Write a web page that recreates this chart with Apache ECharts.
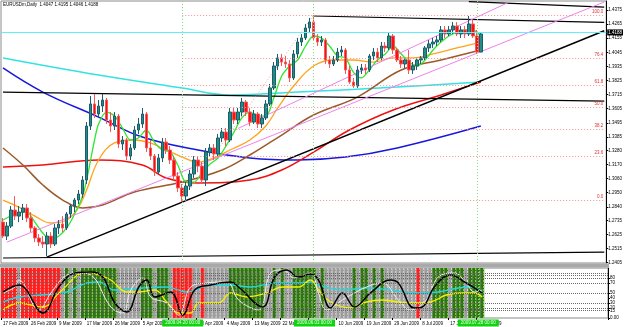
<!DOCTYPE html>
<html>
<head>
<meta charset="utf-8">
<script src="https://cdn.jsdelivr.net/npm/echarts@6/dist/echarts.min.js"></script>
<style>
html, body { margin: 0; padding: 0; background: #fff; }
#chart { width: 625px; height: 327px; }
</style>
</head>
<body>
<div id="chart"></div>
<script>
// EURUSDm daily bars, one per trading day from 17 Feb 2009
var opens = [
  1.2721, 1.2612, 1.2690, 1.2815, 1.2768, 1.2799, 1.2831, 1.2753, 1.2675, 1.2597,
  1.2565, 1.2550, 1.2612, 1.2550, 1.2675, 1.2706, 1.2675, 1.2784, 1.2846, 1.2893,
  1.2940, 1.3049, 1.3470, 1.3642, 1.3564, 1.3626, 1.3673, 1.3517, 1.3470, 1.3548,
  1.3330, 1.3361, 1.3236, 1.3299, 1.3439, 1.3486, 1.3564, 1.3299, 1.3236, 1.3111,
  1.3221, 1.3345, 1.3283, 1.3205, 1.3080, 1.2987, 1.2924, 1.3002, 1.3096, 1.3205,
  1.3158, 1.3049, 1.3267, 1.3299, 1.3252, 1.3377, 1.3423, 1.3361, 1.3579, 1.3517,
  1.3579, 1.3657, 1.3579, 1.3501, 1.3564, 1.3486, 1.3533, 1.3642, 1.3767, 1.3938,
  1.4001, 1.3969, 1.3954, 1.3845, 1.4032, 1.4125, 1.4157, 1.4235, 1.4281, 1.4157,
  1.4125, 1.4141, 1.3985, 1.3954, 1.3985, 1.4047, 1.4063, 1.3907, 1.3813, 1.3782,
  1.3907, 1.3923, 1.3907, 1.4016, 1.4047, 1.4001, 1.4094, 1.4079, 1.4172, 1.4063,
  1.3985, 1.3954, 1.3985, 1.3907, 1.3938, 1.3985, 1.4001, 1.4079, 1.4110, 1.4125,
  1.4141, 1.4219, 1.4188, 1.4219, 1.4250, 1.4188, 1.4219, 1.4188, 1.4266, 1.4172,
  1.4047
];
var closes = [
  1.2612, 1.2690, 1.2815, 1.2768, 1.2799, 1.2831, 1.2753, 1.2675, 1.2597, 1.2565,
  1.2550, 1.2612, 1.2550, 1.2675, 1.2706, 1.2675, 1.2784, 1.2846, 1.2893, 1.2940,
  1.3049, 1.3470, 1.3642, 1.3564, 1.3626, 1.3673, 1.3517, 1.3470, 1.3548, 1.3330,
  1.3361, 1.3236, 1.3299, 1.3439, 1.3486, 1.3564, 1.3299, 1.3236, 1.3111, 1.3221,
  1.3345, 1.3283, 1.3205, 1.3080, 1.2987, 1.2924, 1.3002, 1.3096, 1.3205, 1.3158,
  1.3049, 1.3267, 1.3299, 1.3252, 1.3377, 1.3423, 1.3361, 1.3579, 1.3517, 1.3579,
  1.3657, 1.3579, 1.3501, 1.3564, 1.3486, 1.3533, 1.3642, 1.3767, 1.3938, 1.4001,
  1.3969, 1.3954, 1.3845, 1.4032, 1.4125, 1.4157, 1.4235, 1.4281, 1.4157, 1.4125,
  1.4141, 1.3985, 1.3954, 1.3985, 1.4047, 1.4063, 1.3907, 1.3813, 1.3782, 1.3907,
  1.3923, 1.3907, 1.4016, 1.4047, 1.4001, 1.4094, 1.4079, 1.4172, 1.4063, 1.3985,
  1.3954, 1.3985, 1.3907, 1.3938, 1.3985, 1.4001, 1.4079, 1.4110, 1.4125, 1.4141,
  1.4219, 1.4188, 1.4219, 1.4250, 1.4188, 1.4219, 1.4188, 1.4266, 1.4172, 1.4047,
  1.4188
];
var highs = [
  1.2753, 1.2721, 1.2846, 1.2924, 1.2846, 1.2862, 1.2862, 1.2799, 1.2690, 1.2628,
  1.2612, 1.2643, 1.2643, 1.2706, 1.2737, 1.2768, 1.2799, 1.2862, 1.2909, 1.2971,
  1.3080, 1.3501, 1.3704, 1.3720, 1.3673, 1.3720, 1.3689, 1.3579, 1.3579, 1.3564,
  1.3392, 1.3377, 1.3330, 1.3470, 1.3533, 1.3611, 1.3579, 1.3361, 1.3252, 1.3252,
  1.3377, 1.3377, 1.3314, 1.3236, 1.3111, 1.3018, 1.3033, 1.3127, 1.3236, 1.3236,
  1.3189, 1.3299, 1.3330, 1.3330, 1.3408, 1.3455, 1.3455, 1.3611, 1.3611, 1.3611,
  1.3689, 1.3673, 1.3611, 1.3595, 1.3579, 1.3564, 1.3673, 1.3798, 1.3969, 1.4032,
  1.4032, 1.4016, 1.3985, 1.4063, 1.4157, 1.4188, 1.4266, 1.4313, 1.4336, 1.4188,
  1.4172, 1.4157, 1.4016, 1.4016, 1.4079, 1.4094, 1.4079, 1.3938, 1.3845, 1.3938,
  1.3954, 1.3954, 1.4032, 1.4079, 1.4079, 1.4125, 1.4125, 1.4203, 1.4188, 1.4079,
  1.4016, 1.4001, 1.4063, 1.3969, 1.4001, 1.4016, 1.4094, 1.4141, 1.4157, 1.4172,
  1.4250, 1.4250, 1.4250, 1.4281, 1.4281, 1.4250, 1.4250, 1.4328, 1.4297, 1.4219,
  1.4195
];
var lows = [
  1.2597, 1.2581, 1.2675, 1.2737, 1.2721, 1.2737, 1.2721, 1.2643, 1.2565, 1.2534,
  1.2519, 1.2456, 1.2519, 1.2534, 1.2628, 1.2643, 1.2659, 1.2753, 1.2799, 1.2862,
  1.2909, 1.3018, 1.3439, 1.3533, 1.3533, 1.3579, 1.3486, 1.3423, 1.3439, 1.3299,
  1.3283, 1.3205, 1.3205, 1.3283, 1.3408, 1.3455, 1.3267, 1.3205, 1.3080, 1.3096,
  1.3189, 1.3252, 1.3174, 1.3049, 1.2955, 1.2877, 1.2893, 1.2971, 1.3065, 1.3111,
  1.3018, 1.3002, 1.3236, 1.3205, 1.3236, 1.3345, 1.3314, 1.3345, 1.3486, 1.3486,
  1.3548, 1.3548, 1.3470, 1.3486, 1.3455, 1.3455, 1.3517, 1.3626, 1.3751, 1.3907,
  1.3938, 1.3923, 1.3813, 1.3829, 1.4001, 1.4094, 1.4141, 1.4203, 1.4141, 1.4094,
  1.4094, 1.3954, 1.3923, 1.3938, 1.3969, 1.4016, 1.3876, 1.3798, 1.3767, 1.3767,
  1.3876, 1.3876, 1.3891, 1.3985, 1.3969, 1.3985, 1.4047, 1.4063, 1.4032, 1.3969,
  1.3923, 1.3923, 1.3876, 1.3876, 1.3907, 1.3954, 1.3985, 1.4047, 1.4079, 1.4094,
  1.4125, 1.4157, 1.4172, 1.4188, 1.4172, 1.4157, 1.4157, 1.4172, 1.4157, 1.4032,
  1.4046
];

// moving averages: [bar index, price]
var maGreen = [[0,1.2737],[3,1.2784],[6,1.2799],[8,1.2721],[10,1.2636],[12,1.2581],[14,1.2612],[16,1.2675],[18,1.2784],[20,1.2924],[21,1.3049],[22,1.3205],[23,1.3361],[24,1.3486],[26,1.3579],[28,1.3548],[30,1.3455],[32,1.3361],[34,1.3377],[36,1.3439],[38,1.3345],[40,1.3283],[42,1.3267],[44,1.3158],[46,1.3033],[48,1.3033],[50,1.3111],[52,1.3174],[54,1.3221],[56,1.3314],[58,1.3423],[60,1.3533],[62,1.3579],[64,1.3548],[66,1.3548],[68,1.3689],[70,1.3860],[72,1.3938],[74,1.3985],[76,1.4094],[78,1.4172],[80,1.4157],[82,1.4094],[84,1.4016],[86,1.4001],[88,1.3891],[90,1.3845],[92,1.3907],[94,1.3985],[96,1.4032],[98,1.4094],[100,1.4032],[102,1.3969],[104,1.3938],[106,1.3985],[108,1.4063],[110,1.4125],[112,1.4172],[114,1.4203],[116,1.4219],[118,1.4219],[120,1.4172]];
var maOrange = [[0,1.2893],[4,1.2838],[8,1.2768],[12,1.2714],[16,1.2737],[19,1.2838],[21,1.2971],[24,1.3205],[28,1.3338],[33,1.3361],[37,1.3338],[41,1.3283],[45,1.3228],[49,1.3189],[53,1.3221],[57,1.3283],[62,1.3361],[66,1.3470],[69,1.3611],[73,1.3782],[78,1.3938],[83,1.3985],[88,1.3985],[93,1.3969],[98,1.4001],[103,1.4001],[108,1.4032],[114,1.4079],[120,1.4125]];
var maBrown = [[0,1.3299],[5,1.3166],[10,1.3010],[15,1.2893],[20,1.2831],[25,1.2854],[33,1.2955],[45,1.3033],[55,1.3127],[62,1.3244],[70,1.3400],[78,1.3556],[89,1.3696],[100,1.3907],[110,1.3985],[120,1.4063]];
var maRed = [[0,1.3150],[10,1.3166],[24,1.3205],[35,1.3166],[41,1.3065],[49,1.3026],[62,1.3049],[70,1.3127],[78,1.3267],[87,1.3439],[98,1.3595],[110,1.3712],[120,1.3813]];
var maBlue = [[0,1.3923],[10,1.3735],[24,1.3540],[35,1.3384],[49,1.3283],[62,1.3221],[74,1.3205],[86,1.3228],[99,1.3299],[120,1.3470]];
var maCyan = [[0,1.4001],[24,1.3868],[45,1.3767],[57,1.3712],[74,1.3735],[99,1.3774],[120,1.3813]];

// hand-drawn objects: [bar index, price] end points
var trendUp = [[11,1.2448],[151,1.4213]];
var trendTop = [[78,1.4328],[151,1.4278]];
var trendTop2 = [[117,1.4440],[151,1.4398]];
var trendMid = [[0,1.3735],[151,1.3665]];
var trendLow = [[0,1.2441],[151,1.2487]];
var channelLow = [[1,1.2565],[151,1.4437]];
var channelHigh = [[59,1.3451],[127,1.4435]];
var fibDiagonal = [[45,1.2893],[78,1.4336]];
var fibRatios = ['0.0','23.6','38.2','50.0','61.8','76.4','100.0'];
var fibPrices = [1.2893,1.3234,1.3444,1.3615,1.3785,1.3996,1.4336];
var lastPrice = 1.4188;
var markedBars = [45, 78, 119];
var markedDates = ['2009.04.20 00:00', '2009.06.03 00:00', '2009.07.28 00:00'];

var priceTicks = [1.4375,1.4265,1.4155,1.4045,1.3935,1.3825,1.3715,1.3605,1.3495,1.3385,1.3280,1.3170,1.3060,1.2950,1.2840,1.2735,1.2625,1.2515,1.2405];
var dateLabels = ['17 Feb 2009','26 Feb 2009','9 Mar 2009','17 Mar 2009','26 Mar 2009','5 Apr 2009','14 Apr 2009','23 Apr 2009','4 May 2009','13 May 2009','22 May 2009','1 Jun 2009','10 Jun 2009','19 Jun 2009','29 Jun 2009','8 Jul 2009','17 Jul 2009','28 Jul 2009'];

// oscillator window
var oscTicks = [85, 80, 70, 50, 40, 30, 20, 15, 0];
var oscLevels = [90, 85, 80, 70, 50, 30, 20, 15];
var oscBlack = [[0,52],[4,66],[10,10],[14,62],[18,90],[22,92],[25,82],[28,30],[31,12],[34,62],[36,76],[38,42],[42,52],[45,6],[48,56],[52,66],[57,72],[59,62],[65,22],[68,82],[71,96],[74,82],[77,88],[79,76],[82,20],[85,50],[88,22],[92,50],[97,76],[99,70],[103,20],[105,22],[108,62],[112,86],[116,70],[120,50]];
var oscWhite = [[0,50],[3,62],[4,76],[9,16],[12,50],[16,86],[19,90],[22,86],[27,22],[30,10],[32,56],[35,80],[37,42],[41,30],[44,6],[47,62],[51,70],[56,72],[59,36],[64,16],[67,90],[70,96],[73,80],[77,90],[79,50],[81,16],[85,36],[91,62],[95,70],[99,36],[102,16],[106,36],[109,82],[113,90],[116,70],[118,52],[120,56]];
var oscYellow = [[0,16],[4,30],[10,22],[14,50],[21,92],[24,86],[27,76],[31,52],[34,52],[38,56],[41,32],[44,10],[47,10],[49,30],[54,30],[57,50],[61,42],[66,50],[70,62],[74,62],[77,76],[79,56],[82,32],[87,20],[91,32],[95,36],[99,32],[103,30],[107,32],[111,46],[115,50],[118,50],[120,42]];
var oscCyan = [[0,32],[4,42],[10,46],[16,52],[21,70],[24,72],[28,56],[35,60],[41,62],[46,52],[52,66],[57,66],[62,62],[68,70],[74,70],[77,72],[79,66],[85,56],[91,60],[97,56],[103,50],[109,52],[114,60],[117,62],[120,52]];
// state of each bar: R = red, G = green, N = neutral (grey)
var zoneRuns = ['RRRR','N','RRRRRRRRRR','N','GNGNG','GGGGGGGG','NNNNNN','GGGNGGGN','RRRRR','NN','R','NNNNNN','GGGGGGGGG','NNGNGNN','GGGGG','GNGNN','NNNNN','GNGGNGNG','NNNNNNNN','R','NNN','GGGGNGGGNGGGG'];

var N_CATS = 152;
var cats = [];
for (var k = 0; k < N_CATS; k++) cats.push(String(k));
var candles = opens.map(function (o, i) { return [o, closes[i], lows[i], highs[i]]; });
var zones = zoneRuns.join('');
var zoneData = zones.split('').map(function (z, i) { return [i, 100]; });
var zoneFill = { R: '#ff1f1f', G: '#33701c', N: '#9c9c9c' };
var zoneLine = { R: '#ff9a9a', G: '#8cf03c', N: '#e6e6e6' };

var FONT = 'Liberation Sans';
var VLINE = { color: '#7ee07e', type: [1, 2], width: 1 };

function isLabelIdx(idx) { return idx % 7 === 0 && idx / 7 < dateLabels.length; }

function line(data, color, width, extra) {
  var s = {
    type: 'line', data: data, xAxisIndex: 0, yAxisIndex: 0,
    symbol: 'none', silent: true,
    lineStyle: { color: color, width: width },
    z: 3
  };
  if (extra) for (var key in extra) s[key] = extra[key];
  return s;
}

var chart = echarts.init(document.getElementById('chart'));

var option = {
  animation: false,
  backgroundColor: '#ffffff',
  textStyle: { fontFamily: FONT },
  grid: [
    { left: 1, top: 1, width: 607, height: 262, show: true, borderColor: '#8a8a8a', borderWidth: 1, backgroundColor: '#fff' },
    { left: 1, top: 268, width: 607, height: 50, show: true, borderColor: '#8a8a8a', borderWidth: 1, backgroundColor: '#fff' }
  ],
  xAxis: [
    { type: 'category', gridIndex: 0, data: cats, axisLine: { show: false }, axisTick: { show: false }, axisLabel: { show: false } },
    {
      type: 'category', gridIndex: 1, data: cats,
      axisLine: { show: false },
      axisTick: { show: true, interval: function (idx) { return isLabelIdx(idx); }, length: 2, lineStyle: { color: '#000' } },
      axisLabel: {
        interval: function (idx) { return isLabelIdx(idx); },
        formatter: function (v, idx) { return isLabelIdx(idx) ? dateLabels[idx / 7] : ''; },
        align: 'left', fontSize: 4.5, color: '#000', margin: 3, fontFamily: FONT
      }
    }
  ],
  yAxis: [
    {
      type: 'value', gridIndex: 0, position: 'right', min: 1.2402, max: 1.4445,
      splitLine: { show: false },
      axisLine: { show: true, lineStyle: { color: '#000' } },
      axisTick: { show: true, length: 2, customValues: priceTicks, lineStyle: { color: '#000' } },
      axisLabel: { customValues: priceTicks, formatter: function (v) { return v.toFixed(4); }, fontSize: 4.5, color: '#000', margin: 2, fontFamily: FONT }
    },
    {
      type: 'value', gridIndex: 1, position: 'right', min: 0, max: 100,
      splitLine: { show: false },
      axisLine: { show: true, lineStyle: { color: '#000' } },
      axisTick: { show: true, length: 2, customValues: oscTicks, lineStyle: { color: '#000' } },
      axisLabel: { customValues: oscTicks, formatter: function (v) { return v === 0 ? '0.00' : String(v); }, fontSize: 4.5, color: '#000', margin: 2, fontFamily: FONT }
    }
  ],
  series: [
    {
      type: 'candlestick', data: candles, xAxisIndex: 0, yAxisIndex: 0, barWidth: 3, z: 4,
      itemStyle: { color: '#1f8f80', color0: '#ff1010', borderColor: '#1d5c6e', borderColor0: '#f05a5a', borderWidth: 1 },
      markLine: {
        silent: true, symbol: ['none', 'none'], animation: false,
        data: markedBars.map(function (b) {
          return { xAxis: String(b), lineStyle: VLINE, label: { show: false } };
        }).concat([{
          yAxis: lastPrice,
          lineStyle: { color: '#5ff0ff', type: 'solid', width: 1.2 },
          label: { show: true, position: 'end', distance: 1, formatter: lastPrice.toFixed(4), backgroundColor: '#000', color: '#fff', fontSize: 4.5, padding: [1, 1, 0, 1], fontFamily: FONT }
        }])
      }
    },
    line(maCyan, '#34e2e2', 1.5, { smooth: 0.4 }),
    line(maBlue, '#1818dd', 1.5, { smooth: 0.4 }),
    line(maRed, '#ee1111', 1.5, { smooth: 0.4 }),
    line(maBrown, '#9a5a2a', 1.5, { smooth: 0.4 }),
    line(maOrange, '#ffa31a', 1.3, { smooth: 0.4 }),
    line(maGreen, '#2ee62e', 1.3, { smooth: 0.3 }),
    line(trendUp, '#000', 1.5),
    line(trendTop, '#000', 1.2),
    line(trendTop2, '#000', 1.2),
    line(trendMid, '#000', 1.2),
    line(trendLow, '#000', 1.2),
    line(channelLow, '#ee82ee', 1),
    line(channelHigh, '#ee82ee', 1),
    line(fibDiagonal, '#f4a0a0', 1, { lineStyle: { color: '#f4a0a0', width: 1, type: [1, 2] } }),
    {
      type: 'line', data: [], xAxisIndex: 0, yAxisIndex: 0, z: 2,
      markLine: {
        silent: true, symbol: ['none', 'none'], animation: false,
        data: fibPrices.map(function (p, i) {
          return [
            { coord: ['45', p], lineStyle: { color: '#f49090', type: [1, 2], width: 1 } },
            { coord: ['151', p], label: { show: true, position: 'insideEndTop', distance: 1, formatter: fibRatios[i], color: '#e03030', fontSize: 4.5, fontFamily: FONT } }
          ];
        })
      }
    },
    // oscillator window
    {
      type: 'line', data: [], xAxisIndex: 1, yAxisIndex: 1, z: 1,
      markLine: {
        silent: true, symbol: ['none', 'none'], animation: false,
        data: oscLevels.map(function (v) {
          return { yAxis: v, lineStyle: { color: '#6a6a6a', type: [1, 1], width: 1 }, label: { show: false } };
        })
      }
    },
    {
      type: 'custom', xAxisIndex: 1, yAxisIndex: 1, z: 2, silent: true,
      data: zoneData,
      renderItem: function (params, api) {
        var i = api.value(0);
        var top = api.coord([i, 100]);
        var bot = api.coord([i, 0]);
        var w = api.size([1, 0])[0];
        var z = zones.charAt(i);
        return {
          type: 'group',
          children: [
            { type: 'rect', shape: { x: top[0] - w / 2, y: top[1], width: w, height: bot[1] - top[1] }, style: { fill: zoneFill[z] } },
            { type: 'line', shape: { x1: top[0] + w / 2 - 0.5, y1: top[1], x2: top[0] + w / 2 - 0.5, y2: bot[1] }, style: { stroke: zoneLine[z], lineWidth: 1, lineDash: [2, 1] } }
          ]
        };
      },
      markLine: {
        silent: true, symbol: ['none', 'none'], animation: false,
        data: markedBars.map(function (b) {
          return { xAxis: String(b), lineStyle: VLINE, label: { show: false } };
        })
      }
    },
    { type: 'line', data: oscCyan, xAxisIndex: 1, yAxisIndex: 1, z: 3, symbol: 'none', smooth: 0.4, lineStyle: { color: '#22d8e0', width: 1.3 } },
    { type: 'line', data: oscYellow, xAxisIndex: 1, yAxisIndex: 1, z: 3, symbol: 'none', smooth: 0.4, lineStyle: { color: '#f4f000', width: 1.3 } },
    { type: 'line', data: oscWhite, xAxisIndex: 1, yAxisIndex: 1, z: 3, symbol: 'none', smooth: 0.4, lineStyle: { color: '#eeeeee', width: 1 } },
    { type: 'line', data: oscBlack, xAxisIndex: 1, yAxisIndex: 1, z: 4, symbol: 'none', smooth: 0.4, lineStyle: { color: '#000', width: 1.5 } }
  ]
};

chart.setOption(option);

// title, panel separator and the date boxes under the vertical lines
var graphics = [
  { type: 'text', left: 3, top: 2, z: 10, style: { text: 'EURUSDm,Daily  1.4047 1.4195 1.4046 1.4188', fill: '#000', font: '4.5px "Liberation Sans"' } },
  { type: 'rect', shape: { x: 0, y: 263.5, width: 609, height: 4 }, style: { fill: '#a9a9a9' }, z: 10 }
];
markedBars.forEach(function (b, i) {
  var x = chart.convertToPixel({ xAxisIndex: 1 }, String(b));
  graphics.push({
    type: 'text', x: x, y: 319.5, z: 10,
    style: { text: markedDates[i], fill: '#f0fff0', font: '4.5px "Liberation Sans"', align: 'center', verticalAlign: 'top', backgroundColor: '#12d212', padding: [1, 3, 1, 3] }
  });
});
chart.setOption({ graphic: graphics });
</script>
</body>
</html>
